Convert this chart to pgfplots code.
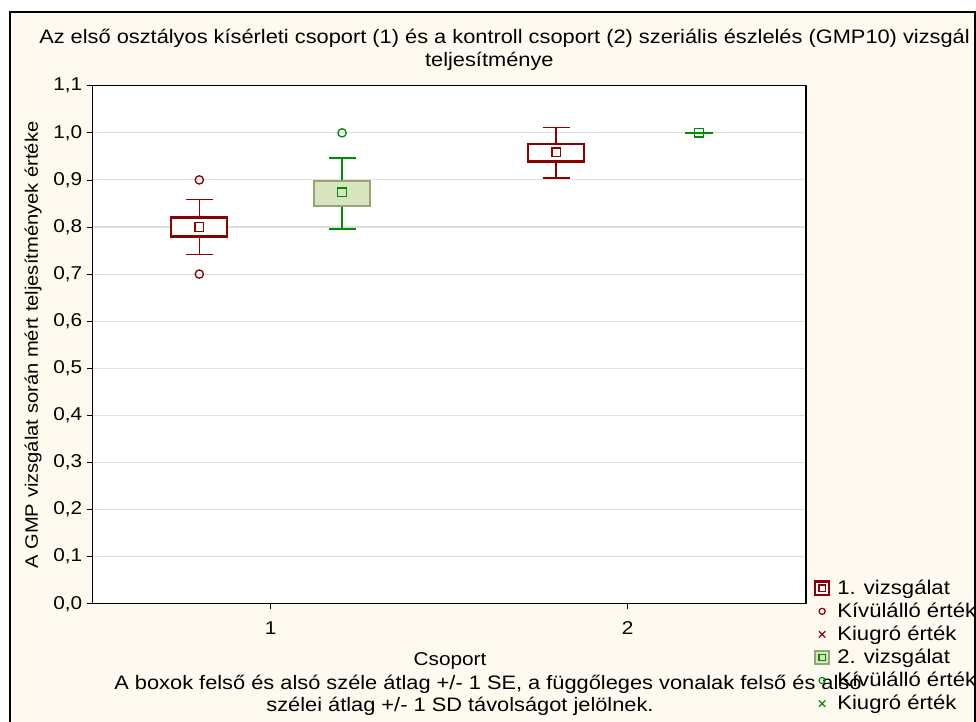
\documentclass[border=0pt]{standalone}
\usepackage{pgfplots}
\pgfplotsset{compat=1.18}
\usepgfplotslibrary{statistics}
\usepackage{fontspec}
\setmainfont{Liberation Sans}[FakeStretch=1.12]
\definecolor{dred}{RGB}{139,0,0}
\definecolor{dgreen}{RGB}{0,140,0}
\definecolor{boxfill}{RGB}{215,228,189}
\definecolor{boxedge}{RGB}{152,163,122}
\definecolor{cream}{RGB}{255,250,240}
\newcommand{\fs}[1]{\fontsize{#1}{1.2\dimexpr#1\relax}\selectfont}
\begin{document}
\begin{tikzpicture}
\useasboundingbox (0,0) rectangle (732pt,541.5pt);
\clip (0,0) rectangle (732pt,541.5pt);
\fill[white] (0,0) rectangle (732pt,541.5pt);
\fill[cream] (7.5pt,-5pt) rectangle (731.25pt,532.5pt);
\draw[line width=1.6pt] (7.5pt,-5pt) -- (7.5pt,532.5pt) -- (731.25pt,532.5pt) -- (731.25pt,-5pt);
\node[anchor=base, font=\fs{14.6pt}] at (378.4pt,509pt) {Az első osztályos kísérleti csoport (1) és a kontroll csoport (2) szeriális észlelés (GMP10) vizsgál};
\node[anchor=base, font=\fs{14.6pt}] at (367pt,491.5pt) {teljesítménye};
\node[rotate=90, font=\fs{13.5pt}] at (24.75pt,282.75pt) {A GMP vizsgálat során mért teljesítmények értéke};
\node[font=\fs{13.9pt}] at (337.5pt,45.75pt) {Csoport};
\node[font=\fs{14.6pt}] at (366pt,28.5pt) {A boxok felső és alsó széle átlag +/- 1 SE, a függőleges vonalak felső és alsó};
\node[font=\fs{14.6pt}] at (345pt,12pt) {szélei átlag +/- 1 SD távolságot jelölnek.};
\begin{axis}[
  at={(69.2pt,88.7pt)}, anchor=south west,
  scale only axis, width=535.3pt, height=388.5pt,
  xmin=0.5, xmax=2.5, ymin=0, ymax=1.1,
  xtick={1,2}, ytick={0,0.1,...,1.1},
  yticklabel style={/pgf/number format/.cd, fixed, fixed zerofill, precision=1, use comma},
  /pgf/number format/assume math mode=true,
  xtick pos=left, ytick pos=left, tick align=outside,
  major tick length=4pt,
  tick style={black, line width=0.6pt},
  axis line style={line width=0.8pt},
  ymajorgrids, grid style={color=black!13, line width=0.8pt},
  axis background/.style={fill=white},
  ticklabel style={font=\fs{13.9pt}},
  xticklabel style={yshift=-6pt},
  legend style={at={(1.0112,0.0515)}, anchor=north west, draw=none, fill=none,
    font=\fs{14.8pt}, row sep=0.9pt, inner sep=0pt},
  legend cell align=left,
  boxplot/draw direction=y,
  boxplot/draw/median/.code={},
]
% group 1, first test
\addplot[forget plot, dred, line width=1.1pt,
  boxplot prepared={draw position=0.8, lower whisker=0.742, lower quartile=0.780,
    median=0.80, upper quartile=0.820, upper whisker=0.858,
    box extend=0.157, whisker extend=0.076,
    every box/.style={draw=dred, fill=white, line width=1.7pt}}]
  coordinates {};
% group 2, first test
\addplot[forget plot, dred, line width=1.1pt,
  boxplot prepared={draw position=1.8, lower whisker=0.904, lower quartile=0.939,
    median=0.959, upper quartile=0.977, upper whisker=1.011,
    box extend=0.157, whisker extend=0.076,
    every box/.style={draw=dred, fill=white, line width=1.7pt}}]
  coordinates {};
% group 1, second test
\addplot[forget plot, dgreen, line width=1.1pt,
  boxplot prepared={draw position=1.2, lower whisker=0.796, lower quartile=0.844,
    median=0.874, upper quartile=0.898, upper whisker=0.947,
    box extend=0.157, whisker extend=0.076,
    every box/.style={draw=boxedge, fill=boxfill, line width=1.7pt}}]
  coordinates {};
% group 2, second test (all values 1.0)
\addplot[forget plot, dgreen, line width=1.3pt,
  boxplot prepared={draw position=2.2, lower whisker=1.0, lower quartile=1.0,
    median=1.0, upper quartile=1.0, upper whisker=1.0,
    box extend=0.078, whisker extend=0.078,
    every box/.style={draw=dgreen, line width=1.3pt}}]
  coordinates {};
% means
\addplot[forget plot, only marks, mark=square, mark size=3.2pt, dred, line width=1pt]
  coordinates {(0.8,0.80) (1.8,0.959)};
\addplot[forget plot, only marks, mark=square, mark size=3.2pt, dgreen, line width=1pt]
  coordinates {(1.2,0.874) (2.2,1.0)};
% outliers
\addplot[forget plot, only marks, mark=o, mark size=3.1pt, dred, line width=1pt]
  coordinates {(0.8,0.90) (0.8,0.70)};
\addplot[forget plot, only marks, mark=o, mark size=3.1pt, dgreen, line width=1pt]
  coordinates {(1.2,1.0)};
% legend
\addlegendimage{legend image code/.code={
  \draw[dred, line width=1.6pt, fill=white] (-0.3pt,-5.1pt) rectangle (9.9pt,5.1pt);
  \draw[dred, line width=0.9pt] (2.4pt,-2.4pt) rectangle (7.2pt,2.4pt);
  \path (14pt,0pt);}}
\addlegendentry{1. vizsgálat}
\addlegendimage{legend image code/.code={
  \draw[dred, line width=0.9pt] (4.8pt,0pt) circle (2.3pt);
  \path (0pt,0pt) (14pt,0pt);}}
\addlegendentry{Kívülálló érték}
\addlegendimage{legend image code/.code={
  \draw[dred, line width=0.9pt] (2.4pt,-2.4pt) -- (7.2pt,2.4pt) (2.4pt,2.4pt) -- (7.2pt,-2.4pt);
  \path (0pt,0pt) (14pt,0pt);}}
\addlegendentry{Kiugró érték}
\addlegendimage{legend image code/.code={
  \draw[boxedge, line width=1.6pt, fill=boxfill] (-0.3pt,-5.1pt) rectangle (9.9pt,5.1pt);
  \draw[dgreen, line width=0.9pt] (2.4pt,-2.4pt) rectangle (7.2pt,2.4pt);
  \path (14pt,0pt);}}
\addlegendentry{2. vizsgálat}
\addlegendimage{legend image code/.code={
  \draw[dgreen, line width=0.9pt] (4.8pt,0pt) circle (2.3pt);
  \path (0pt,0pt) (14pt,0pt);}}
\addlegendentry{Kívülálló érték}
\addlegendimage{legend image code/.code={
  \draw[dgreen, line width=0.9pt] (2.4pt,-2.4pt) -- (7.2pt,2.4pt) (2.4pt,2.4pt) -- (7.2pt,-2.4pt);
  \path (0pt,0pt) (14pt,0pt);}}
\addlegendentry{Kiugró érték}
\end{axis}
\end{tikzpicture}
\end{document}
